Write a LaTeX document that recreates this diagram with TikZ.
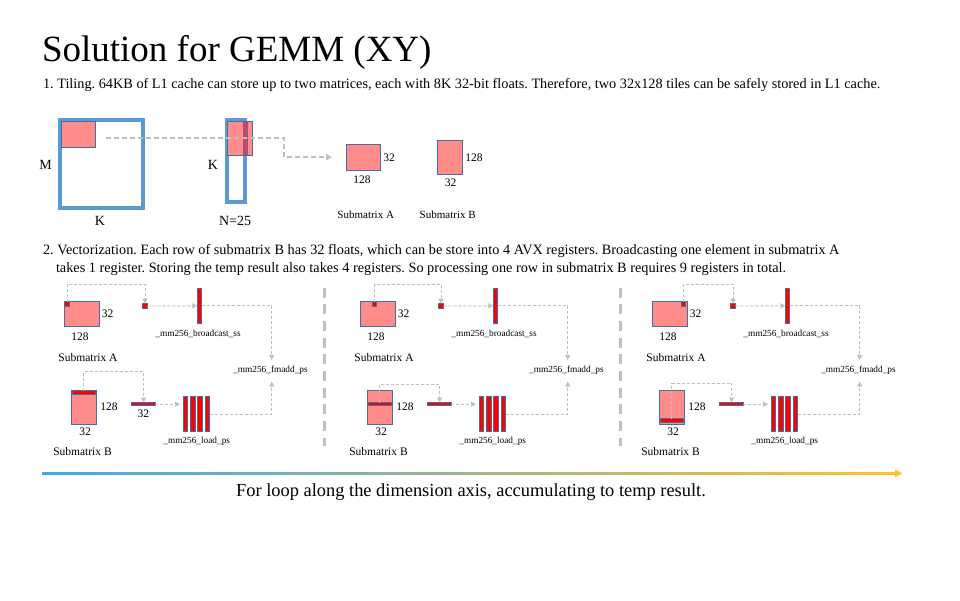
\documentclass[tikz,border=0pt]{standalone}
\usepackage{fontspec}
\setmainfont{Liberation Serif}
\usetikzlibrary{arrows.meta}
\frenchspacing
\definecolor{mblue}{HTML}{5B9BD5}
\definecolor{mpink}{HTML}{FF8B8B}
\definecolor{dbord}{HTML}{41719C}
\definecolor{lgray}{HTML}{BFBFBF}
\definecolor{mred}{HTML}{FF0000}
\definecolor{ovl}{HTML}{B0506E}
\definecolor{gleft}{HTML}{41A8EE}
\definecolor{gright}{HTML}{FFC12E}
\newcommand\gpanel[6]{%
\begin{scope}[xshift=#2pt]
  \coordinate (#1ytop) at (0,284);
  \coordinate (#1yB) at (0,#5);
  % submatrix A
  \node[pinkbox, minimum width=34.5pt, minimum height=25.5pt, anchor=north west] (#1A) at (64.5,301) {};
  \node[lbl] (#1Aw) at (107.5,314) {32};
  \node[lbl] (#1Ah) at (80,337) {128};
  \node[lbl] (#1An) at (88,358) {Submatrix A};
  \node[smallsq] (#1s) at (#3,304) {};
  \node[smallsq] (#1t) at (145,306) {};
  \node[redbar, minimum width=4.4pt, minimum height=35pt] (#1bc) at (199.5,305.8) {};
  \node[tinylbl] (#1bcl) at (198,334) {\_mm256\_broadcast\_ss};
  \node[tinylbl, minimum height=21.5pt] (#1fm) at (270.5,370.7) {\_mm256\_fmadd\_ps};
  \draw[garrow] (#1s.north) -- (#1s.north |- #1ytop) -| (#1t.north);
  \draw[garrow] (#1t.east) -- (#1bc.west);
  \draw[garrow] (#1bc.east) -| ([xshift=1.2pt]#1fm.north);
  % submatrix B
  \node[pinkbox, minimum width=24.3pt, minimum height=34.3pt, anchor=north west] (#1B) at (71.7,390) {};
  \node[rowbar, minimum width=22.6pt, minimum height=3.3pt] (#1r) at (83.85,#4) {};
  \node[lbl] (#1Bh) at (109,406.7) {128};
  \node[lbl] (#1Bw) at (85,431.7) {32};
  \node[lbl] (#1Bn) at (82.5,451.7) {Submatrix B};
  \node[rowbar, minimum width=23.6pt, minimum height=3.4pt] (#1h) at (143.6,404.2) {};
  #6
  \foreach \i in {1,2,3,4}{
    \node[redbar, minimum width=4.4pt, minimum height=35pt, anchor=north west] (#1v\i) at (176+7.3*\i,396.7) {};
  }
  \node[tinylbl] (#1ld) at (196.7,441) {\_mm256\_load\_ps};
  \draw[garrow] (#1r.north) -- (#1r.north |- #1yB) -| (#1h.north);
  \draw[garrow, shorten >=3.3pt] (#1h.east) -- (#1h.east -| #1v1.west);
  \draw[garrow] (#1v4.east) -| ([xshift=1.2pt]#1fm.south);
\end{scope}}
\begin{document}
\begin{tikzpicture}[x=1pt,y=-1pt,
  every node/.style={inner sep=0pt, outer sep=0pt},
  pinkbox/.style={draw=dbord, fill=mpink, line width=0.9pt},
  redbar/.style={draw=dbord, fill=mred, line width=0.9pt},
  rowbar/.style={draw=dbord, fill=mred, line width=0.9pt},
  smallsq/.style={draw=dbord, fill=mred, line width=1pt, minimum size=4.6pt},
  blueframe/.style={draw=mblue, line width=4pt},
  lbl/.style={font=\fontsize{11.5}{13}\selectfont},
  tinylbl/.style={font=\fontsize{9.3}{11}\selectfont},
  midlbl/.style={font=\fontsize{14}{16}\selectfont},
  bodytxt/.style={font=\fontsize{14.28}{16}\selectfont, anchor=base west},
  garrow/.style={draw=lgray, line width=0.9pt, dash pattern=on 3pt off 2pt, -{Triangle[length=5pt,width=5pt]}},
  topdash/.style={draw=lgray, line width=1.6pt, dash pattern=on 5pt off 3pt, -{Triangle[length=6pt,width=6pt]}},
  sepline/.style={draw=lgray, line width=3pt, dash pattern=on 10pt off 6.7pt}
]
\useasboundingbox (0,0) rectangle (960,600);
\fill[white] (0,0) rectangle (960,600);

% title and texts
\node[anchor=base west, font=\fontsize{37}{40}\selectfont] (title) at (42,61.5) {Solution for GEMM (XY)};
\node[bodytxt] (t1) at (43,88) {1. Tiling. 64KB of L1 cache can store up to two matrices, each with 8K 32-bit floats. Therefore, two 32x128 tiles can be safely stored in L1 cache.};
\node[bodytxt] (t2a) at (43,254.5) {2. Vectorization. Each row of submatrix B has 32 floats, which can be store into 4 AVX registers. Broadcasting one element in submatrix A};
\node[bodytxt] (t2b) at (56,272.5) {takes 1 register. Storing the temp result also takes 4 registers. So processing one row in submatrix B requires 9 registers in total.};

% section 1
\node[blueframe, minimum width=82.7pt, minimum height=87.7pt, anchor=north west] (bigM) at (60.3,120.3) {};
\node[draw=dbord, fill=mpink, line width=0.9pt, minimum width=34pt, minimum height=26.3pt, anchor=north west] (tileA) at (61.7,121) {};
\node[midlbl] (lM) at (45.7,165) {M};
\node[midlbl] (lK1) at (100,221) {K};
\node[blueframe, minimum width=18.3pt, minimum height=81.7pt, anchor=north west] (tallN) at (227,120.3) {};
\node[draw=dbord, fill=mpink, line width=0.9pt, minimum width=25pt, minimum height=34pt, anchor=north west] (tileB) at (227.3,121.3) {};
\fill[ovl] (243.3,121.8) rectangle (248,154.8);
\draw[dbord, line width=0.9pt] (tileB.north west) rectangle (tileB.south east);
\node[midlbl] (lK2) at (213,165) {K};
\node[midlbl] (lN) at (235,221) {N=25};
\node[pinkbox, minimum width=34.7pt, minimum height=25.7pt, anchor=north west] (subA) at (346,144.3) {};
\node[lbl] (sA32) at (389,157.3) {32};
\node[lbl] (sA128) at (362,180) {128};
\node[pinkbox, minimum width=25.4pt, minimum height=34.3pt, anchor=north west] (subB) at (437.3,140) {};
\node[lbl] (sB128) at (474,158) {128};
\node[lbl] (sB32) at (450.7,182.3) {32};
\node[font=\fontsize{11}{13}\selectfont] (nA) at (365.7,215) {Submatrix A};
\node[font=\fontsize{11}{13}\selectfont] (nB) at (447.7,215) {Submatrix B};
\coordinate (s0) at (106,138);
\coordinate (s1) at (284,138);
\draw[topdash, shorten >=14pt] (s0) -- (s1) |- (subA.west);

% section 2 panels
\gpanel{p}{0}{67}{392.4}{371.7}{\node[lbl] (p32) at (143.3,413.3) {32};}
\gpanel{q}{296}{78.5}{404.2}{384}{}
\gpanel{r}{588}{95.3}{420.3}{383.3}{}
\draw[sepline] (324.5,287.5) -- (324.5,446);
\draw[sepline] (620.5,287.5) -- (620.5,446);

% gradient arrow
\shade[left color=gleft, right color=gright] (42,472) rectangle (896,474.6);
\fill[gright] (895,469.3) -- (902,473.3) -- (895,477.3) -- cycle;
\node[anchor=base, font=\fontsize{18.4}{20}\selectfont] (loop) at (471,496) {For loop along the dimension axis, accumulating to temp result.};
\end{tikzpicture}
\end{document}
